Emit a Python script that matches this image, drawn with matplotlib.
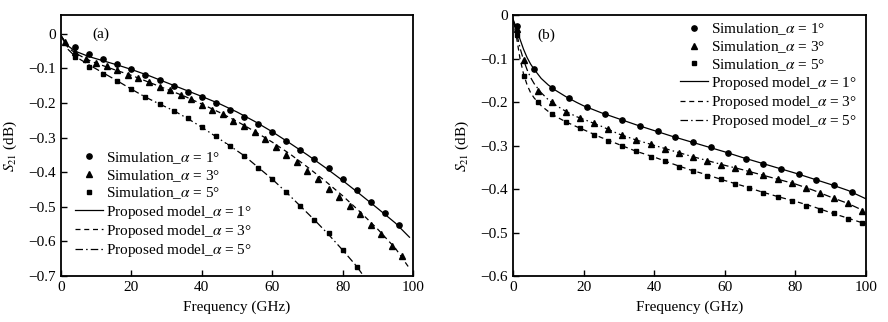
import numpy as np
import matplotlib
matplotlib.use("Agg")
import matplotlib.pyplot as plt
from matplotlib.lines import Line2D

plt.rcParams['font.family'] = 'serif'
plt.rcParams['font.serif'] = ['Liberation Serif', 'DejaVu Serif']
plt.rcParams['mathtext.fontset'] = 'stix'
plt.rcParams['axes.unicode_minus'] = True

# ---- panel (a): simulated S21 points ----
a_x1 = [4, 8, 12, 16, 20, 24, 28, 32, 36, 40, 44, 48, 52, 56, 60, 64, 68, 72, 76, 80, 84, 88, 92, 96]
a_y1 = [-0.037, -0.058, -0.072, -0.086, -0.101, -0.118, -0.133, -0.151, -0.167, -0.183, -0.201, -0.220,
        -0.240, -0.261, -0.285, -0.310, -0.336, -0.362, -0.389, -0.419, -0.451, -0.487, -0.517, -0.553]
a_x3 = [1, 4, 7, 10, 13, 16, 19, 22, 25, 28, 31, 34, 37, 40, 43, 46, 49, 52, 55, 58, 61, 64, 67, 70,
        73, 76, 79, 82, 85, 88, 91, 94, 97]
a_y3 = [-0.025, -0.052, -0.073, -0.085, -0.094, -0.104, -0.118, -0.129, -0.140, -0.153, -0.163, -0.176,
        -0.189, -0.205, -0.220, -0.232, -0.253, -0.266, -0.285, -0.305, -0.326, -0.349, -0.371, -0.396,
        -0.419, -0.450, -0.472, -0.498, -0.522, -0.553, -0.579, -0.613, -0.643]
a_x5 = [4, 8, 12, 16, 20, 24, 28, 32, 36, 40, 44, 48, 52, 56, 60, 64, 68, 72, 76, 80, 84]
a_y5 = [-0.068, -0.095, -0.115, -0.136, -0.160, -0.184, -0.203, -0.222, -0.244, -0.268, -0.295, -0.324,
        -0.352, -0.387, -0.420, -0.457, -0.499, -0.539, -0.577, -0.625, -0.673]

# ---- panel (a): model curves ----
a_mx1 = [0, 2, 4, 8, 12, 16, 20, 25, 30, 35, 40, 45, 50, 55, 60, 65, 70, 75, 80, 85, 90, 95, 99]
a_my1 = [-0.005, -0.035, -0.050, -0.066, -0.078, -0.090, -0.103, -0.121, -0.141, -0.161, -0.181, -0.202,
         -0.226, -0.253, -0.283, -0.316, -0.350, -0.386, -0.424, -0.464, -0.505, -0.547, -0.588]
a_mx3 = [0, 2, 4, 7, 10, 15, 20, 25, 30, 35, 40, 45, 50, 55, 60, 65, 70, 75, 80, 85, 90, 95, 99]
a_my3 = [-0.005, -0.040, -0.055, -0.072, -0.085, -0.103, -0.120, -0.140, -0.160, -0.180, -0.203, -0.227,
         -0.253, -0.282, -0.313, -0.347, -0.385, -0.425, -0.468, -0.515, -0.565, -0.620, -0.678]
a_mx5 = [0, 2, 4, 8, 12, 16, 20, 24, 28, 32, 36, 40, 44, 48, 52, 56, 60, 64, 68, 72, 76, 80, 84, 87]
a_my5 = [-0.005, -0.045, -0.065, -0.090, -0.113, -0.136, -0.160, -0.183, -0.203, -0.222, -0.245, -0.270,
         -0.297, -0.324, -0.352, -0.386, -0.420, -0.458, -0.498, -0.538, -0.580, -0.625, -0.672, -0.715]

# ---- panel (b): simulated S21 points ----
b_x1 = [1, 6, 11, 16, 21, 26, 31, 36, 41, 46, 51, 56, 61, 66, 71, 76, 81, 86, 91, 96]
b_y1 = [-0.025, -0.124, -0.166, -0.191, -0.211, -0.227, -0.240, -0.254, -0.267, -0.281, -0.292, -0.304,
        -0.316, -0.330, -0.342, -0.353, -0.366, -0.379, -0.390, -0.406]
b_x3 = [1, 3, 7, 11, 15, 19, 23, 27, 31, 35, 39, 43, 47, 51, 55, 59, 63, 67, 71, 75, 79, 83, 87, 91, 95, 99]
b_y3 = [-0.030, -0.103, -0.174, -0.200, -0.222, -0.237, -0.248, -0.262, -0.276, -0.286, -0.297, -0.307,
        -0.316, -0.326, -0.335, -0.344, -0.351, -0.359, -0.368, -0.377, -0.386, -0.397, -0.409, -0.421,
        -0.433, -0.450]
b_x5 = [1, 3, 7, 11, 15, 19, 23, 27, 31, 35, 39, 43, 47, 51, 55, 59, 63, 67, 71, 75, 79, 83, 87, 91, 95, 99]
b_y5 = [-0.045, -0.139, -0.199, -0.228, -0.245, -0.260, -0.276, -0.288, -0.301, -0.312, -0.327, -0.336,
        -0.350, -0.358, -0.369, -0.377, -0.389, -0.397, -0.408, -0.418, -0.428, -0.438, -0.447, -0.456,
        -0.468, -0.479]

# ---- panel (b): model curves ----
b_mx = [0, 1, 2, 3, 4, 5, 6, 8, 10, 12, 15, 18, 20, 25, 30, 35, 40, 45, 50, 55, 60, 65, 70, 75, 80,
        85, 90, 95, 100]
b_my1 = [-0.008, -0.030, -0.055, -0.078, -0.097, -0.112, -0.124, -0.145, -0.160, -0.172, -0.187, -0.200,
         -0.208, -0.224, -0.238, -0.252, -0.265, -0.278, -0.290, -0.302, -0.314, -0.327, -0.339, -0.351,
         -0.363, -0.376, -0.389, -0.403, -0.422]
b_my3 = [-0.010, -0.040, -0.075, -0.103, -0.125, -0.143, -0.157, -0.178, -0.194, -0.206, -0.221, -0.233,
         -0.239, -0.255, -0.273, -0.287, -0.299, -0.311, -0.323, -0.334, -0.345, -0.355, -0.366, -0.377,
         -0.388, -0.402, -0.418, -0.433, -0.452]
b_my5 = [-0.010, -0.050, -0.100, -0.135, -0.160, -0.178, -0.190, -0.208, -0.221, -0.232, -0.245, -0.256,
         -0.263, -0.281, -0.297, -0.313, -0.326, -0.341, -0.355, -0.367, -0.380, -0.392, -0.405, -0.417,
         -0.428, -0.440, -0.454, -0.467, -0.480]

angles = [1, 3, 5]
sim_labels = ['Simulation_$\\alpha$ = %d°' % a for a in angles]
model_labels = ['Proposed model_$\\alpha$ = %d°' % a for a in angles]
markers = ['o', '^', 's']
msizes = [3.8, 3.8, 3.4]
styles = ['-', (0, (4, 3)), (0, (6, 2.5, 1.2, 2.5))]

fs = 11


def legend_handles():
    hs = []
    for m, ms, lab in zip(markers, msizes, sim_labels):
        hs.append(Line2D([], [], ls='none', marker=m, ms=ms, color='k', label=lab))
    for st, lab in zip(styles, model_labels):
        hs.append(Line2D([], [], ls=st, lw=0.9, color='k', label=lab))
    return hs


def style_axes(ax, yticks):
    ax.set_xlim(0, 100)
    ax.set_xticks([0, 20, 40, 60, 80, 100])
    ax.set_yticks(yticks)
    ax.set_yticklabels(['0' if t == 0 else ('%.1f' % t).replace('-', '\u2212') for t in yticks])
    ax.tick_params(direction='in', length=4, width=1, labelsize=fs, top=False, right=False)
    for s in ax.spines.values():
        s.set_linewidth(1.3)
    ax.set_xlabel('Frequency (GHz)', fontsize=fs, labelpad=4.5)
    ax.set_ylabel('$S_{21}$ (dB)', fontsize=fs, labelpad=7)


fig = plt.figure(figsize=(8.88, 3.22), dpi=100)
ax1 = fig.add_axes([0.0687, 0.1429, 0.3964, 0.809])
ax2 = fig.add_axes([0.5777, 0.1429, 0.3972, 0.809])

# panel (a)
ax1.plot(a_mx1, a_my1, ls=styles[0], color='k', lw=0.9)
ax1.plot(a_mx3, a_my3, ls=styles[1], color='k', lw=0.9)
ax1.plot(a_mx5, a_my5, ls=styles[2], color='k', lw=0.9)
for xs, ys, m, ms in zip([a_x1, a_x3, a_x5], [a_y1, a_y3, a_y5], markers, msizes):
    ax1.plot(xs, ys, ls='none', marker=m, ms=ms, color='k')
ax1.set_ylim(-0.7, 0.053)
style_axes(ax1, [0, -0.1, -0.2, -0.3, -0.4, -0.5, -0.6, -0.7])
ax1.text(9, 0.0, '(a)', fontsize=fs, ha='left', va='center')
leg1 = ax1.legend(handles=legend_handles(), loc='lower left', bbox_to_anchor=(0.025, 0.045),
                  fontsize=fs, frameon=False, handlelength=1.8, handletextpad=0.25,
                  labelspacing=0.14, borderpad=0.35, borderaxespad=0)
# top entry sits on white, so the dash-dot curve is cut where it passes over it
leg1.get_texts()[0].set_bbox(dict(facecolor='white', edgecolor='none', pad=4.5))

# panel (b)
ax2.plot(b_mx, b_my1, ls=styles[0], color='k', lw=0.9)
ax2.plot(b_mx, b_my3, ls=styles[2], color='k', lw=0.9)
ax2.plot(b_mx, b_my5, ls=styles[1], color='k', lw=0.9)
for xs, ys, m, ms in zip([b_x1, b_x3, b_x5], [b_y1, b_y3, b_y5], markers, msizes):
    ax2.plot(xs, ys, ls='none', marker=m, ms=ms, color='k', clip_on=False)
ax2.set_ylim(-0.6, 0)
style_axes(ax2, [0, -0.1, -0.2, -0.3, -0.4, -0.5, -0.6])
ax2.text(7, -0.045, '(b)', fontsize=fs, ha='left', va='center')
ax2.legend(handles=legend_handles(), loc='upper right', bbox_to_anchor=(0.985, 0.99),
           fontsize=fs, frameon=False, handlelength=1.8, handletextpad=0.25,
           labelspacing=0.14, borderpad=0.2, borderaxespad=0)

fig.savefig('out.png', dpi=100)
